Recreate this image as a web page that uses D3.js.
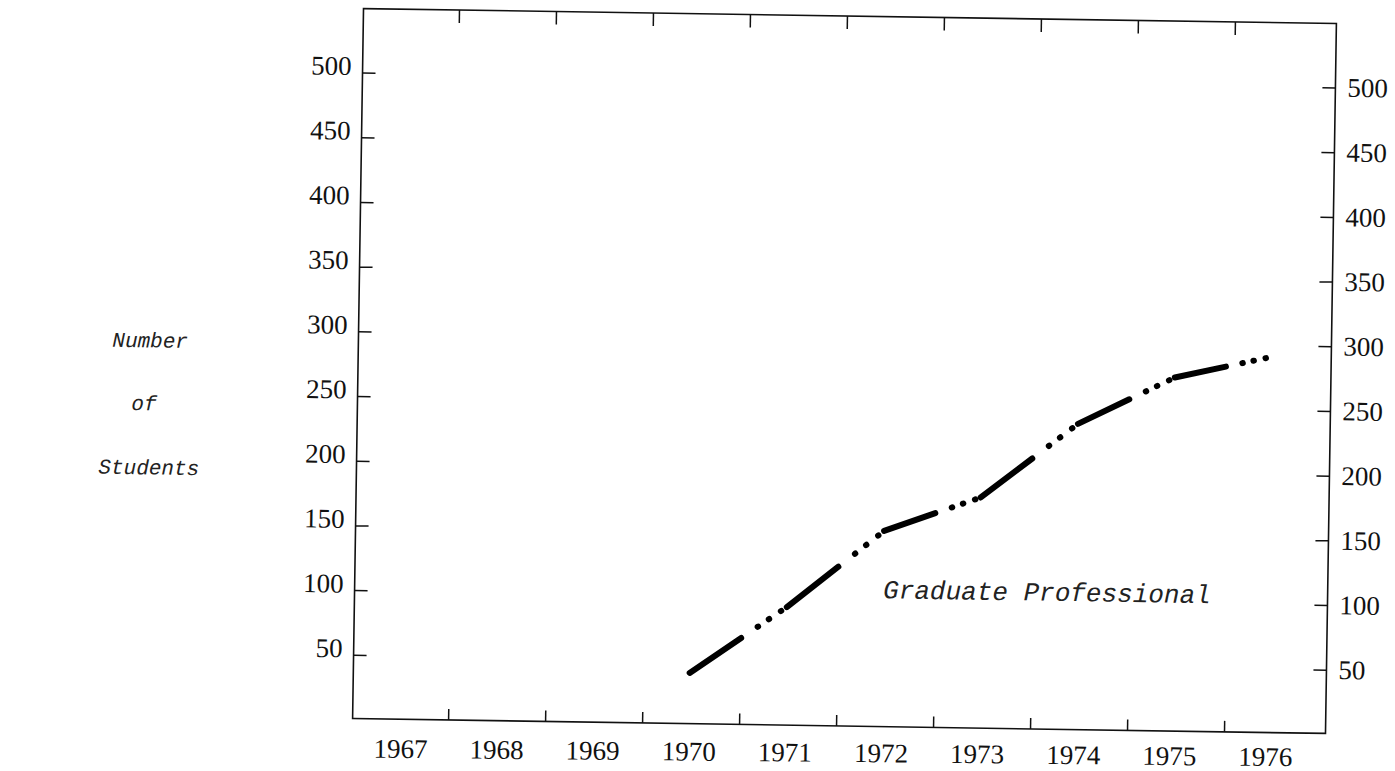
<!DOCTYPE html>
<html>
<head>
<meta charset="utf-8">
<script src="https://cdn.jsdelivr.net/npm/d3@7"></script>
<style>
  body { margin: 0; background: #fff; }
  svg { display: block; }
</style>
</head>
<body>
<div class="chart"></div>
<script>
// ---- data ----
const years = [1967, 1968, 1969, 1970, 1971, 1972, 1973, 1974, 1975, 1976];
const yTicks = [50, 100, 150, 200, 250, 300, 350, 400, 450, 500];
const gradYears = [1970, 1971, 1972, 1973, 1974, 1975, 1976];
const gradStudents = [40, 92, 152, 179, 237, 274, 291];
const yTitle = ["Number", "of", "Students"];
const seriesLabel = "Graduate Professional";

const width = 1395, height = 771;
const frame = { left: 358, right: 1331, top: 16, bottom: 726 };
const numFont = "'Liberation Serif', serif";
const typeFont = "'Liberation Mono', monospace";

const svg = d3.select(".chart").append("svg")
    .attr("width", width)
    .attr("height", height);
svg.append("rect").attr("width", width).attr("height", height).attr("fill", "#fff");

// the sheet was scanned slightly askew
const page = svg.append("g").attr("transform", "rotate(0.88, 844.5, 371)");
// the year row was typed a little less skewed than the frame
const yearRow = svg.append("g").attr("transform", "rotate(0.53, 844.5, 371)");

const tickX = d3.scaleBand().domain(years).range([357, 1327]);
const x = d3.scalePoint().domain(years).range([406, 1271]);
const y = d3.scaleLinear().domain([0, 500]).range([727, 80]);

// frame
page.append("path")
    .attr("d", `M${frame.left},${frame.top}H${frame.right}V${frame.bottom}H${frame.left}Z`)
    .attr("fill", "none")
    .attr("stroke", "#111")
    .attr("stroke-width", 1.6);

// left and right value axes, ticks pointing in
function styleAxis(g) {
    g.select(".domain").remove();
    g.selectAll(".tick line").attr("stroke", "#111").attr("stroke-width", 1.5);
    g.selectAll(".tick text")
        .attr("font-family", numFont)
        .attr("font-size", 27)
        .attr("fill", "#111");
}

page.append("g")
    .attr("transform", `translate(${frame.left},0)`)
    .call(d3.axisLeft(y).tickValues(yTicks).tickSize(-13).tickPadding(11))
    .call(styleAxis)
    .call(g => g.selectAll(".tick text").attr("dy", "0.08em"));

page.append("g")
    .attr("transform", `translate(${frame.right},0)`)
    .call(d3.axisRight(y).tickValues(yTicks).tickSize(-13).tickPadding(12))
    .call(styleAxis);

// year dividers on top and bottom edges
const dividers = years.slice(1);
page.append("g").selectAll("line.bottomTick")
    .data(dividers)
    .enter().append("line")
    .attr("class", "bottomTick")
    .attr("x1", d => tickX(d)).attr("x2", d => tickX(d))
    .attr("y1", frame.bottom).attr("y2", frame.bottom - 11)
    .attr("stroke", "#111").attr("stroke-width", 1.5);

page.append("g").selectAll("line.topTick")
    .data(dividers)
    .enter().append("line")
    .attr("class", "topTick")
    .attr("x1", d => tickX(d)).attr("x2", d => tickX(d))
    .attr("y1", frame.top).attr("y2", frame.top + 13)
    .attr("stroke", "#111").attr("stroke-width", 1.5);

yearRow.selectAll("text.year")
    .data(years)
    .enter().append("text")
    .attr("class", "year")
    .attr("x", d => x(d) - 2)
    .attr("y", frame.bottom + 36)
    .attr("text-anchor", "middle")
    .attr("font-family", numFont)
    .attr("font-size", 27)
    .attr("fill", "#111")
    .text(d => d);

// series: dash followed by three dots on each yearly segment
const points = gradYears.map((d, i) => [x(d), y(gradStudents[i])]);
const segs = d3.pairs(points);
const line = d3.line();

page.append("g").selectAll("path.seg")
    .data(segs)
    .enter().append("path")
    .attr("class", "seg")
    .attr("d", d => line(d))
    .attr("fill", "none")
    .attr("stroke", "#000")
    .attr("stroke-width", 6)
    .attr("stroke-linecap", "round")
    .each(function() {
        let L = this.getTotalLength();
        let dash = [0.53 * L, 0.17 * L, 0.5, 0.11 * L, 0.5, 0.12 * L, 0.5, L];
        d3.select(this).attr("stroke-dasharray", dash.join(" "));
    });

page.append("text")
    .attr("x", x(1972))
    .attr("y", y(100))
    .attr("font-family", typeFont)
    .attr("font-style", "italic")
    .attr("font-size", 26)
    .attr("fill", "#222")
    .text(seriesLabel);

// axis title, typed in three lines
const titleX = [112, 132, 100];
const titleY = [358, 421, 485];
page.append("g").selectAll("text.ytitle")
    .data(yTitle)
    .enter().append("text")
    .attr("class", "ytitle")
    .attr("x", (d, i) => titleX[i])
    .attr("y", (d, i) => titleY[i])
    .attr("font-family", typeFont)
    .attr("font-style", "italic")
    .attr("font-size", 21)
    .attr("fill", "#222")
    .text(d => d);
</script>
</body>
</html>
